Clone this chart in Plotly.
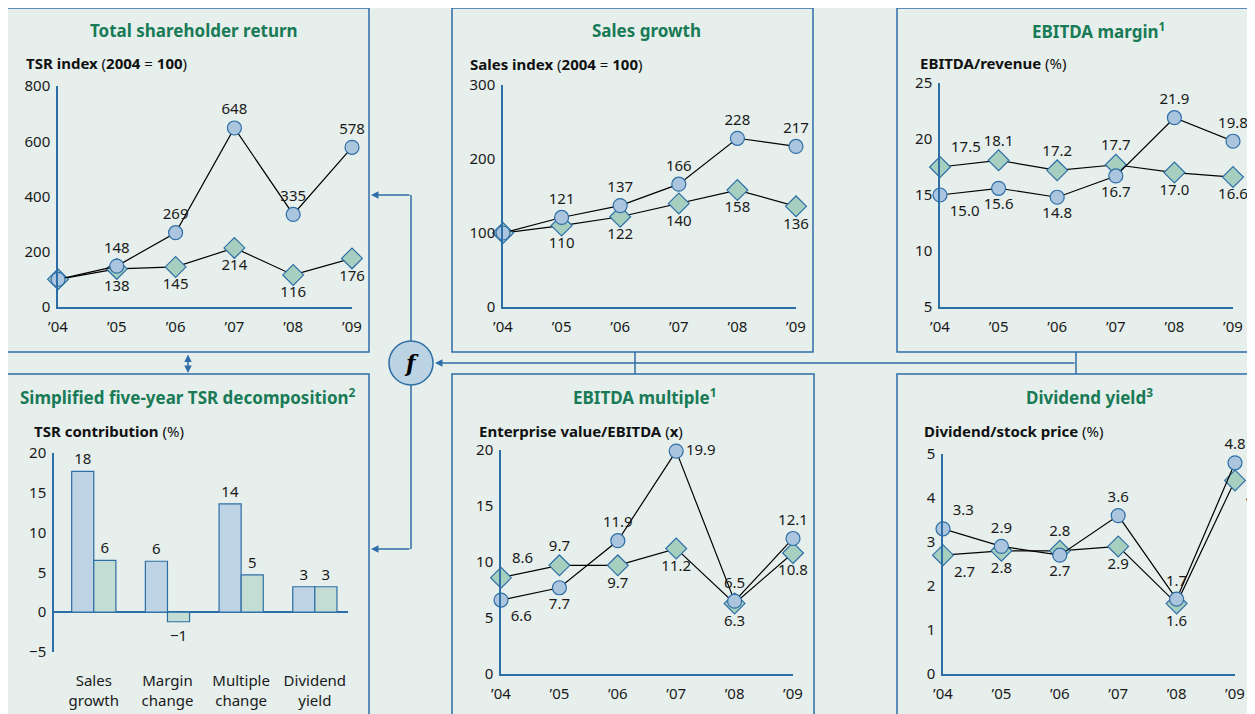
import plotly.graph_objects as go

OFF = 8  # the page body margin shifts the figure by this many pixels
W, H = 1255 + OFF, 714 + OFF
BG = "#e6efec"
BLUE = "#2e6ea6"
GREEN_T = "#197a56"
CIRC_FILL = "#aac5dd"
DIAM_FILL = "#a7cfc0"
BAR_BLUE = "#bed3e3"
BAR_GREEN = "#c4ddd4"
FONT = "Noto Sans"

years = ["’04", "’05", "’06", "’07", "’08", "’09"]

tsr_co = [100, 148, 269, 648, 335, 578]
tsr_peers = [100, 138, 145, 214, 116, 176]
sales_co = [100, 121, 137, 166, 228, 217]
sales_peers = [100, 110, 122, 140, 158, 136]
margin_co = [15.0, 15.6, 14.8, 16.7, 21.9, 19.8]
margin_peers = [17.5, 18.1, 17.2, 17.7, 17.0, 16.6]
multiple_co = [6.6, 7.7, 11.9, 19.9, 6.5, 12.1]
multiple_peers = [8.6, 9.7, 9.7, 11.2, 6.3, 10.8]
yield_co = [3.3, 2.9, 2.7, 3.6, 1.7, 4.8]
yield_peers = [2.7, 2.8, 2.8, 2.9, 1.6, 4.4]

decomp_cats = ["Sales<br>growth", "Margin<br>change", "Multiple<br>change", "Dividend<br>yield"]
decomp_co = [17.7, 6.4, 13.6, 3.2]
decomp_peers = [6.5, -1.2, 4.7, 3.2]
decomp_co_lbl = ["18", "6", "14", "3"]
decomp_peers_lbl = ["6", "−1", "5", "3"]


def px(x):
    return (x - OFF) / W


def py(y):
    return 1 - (y - OFF) / H


fig = go.Figure()

# line panels: axis no, plot area in px, y range, y ticks, data, label positions, format, blank first label
TC, BC = "top center", "bottom center"
panels = [
    (1, (58, 352, 86, 307), [0, 800], [0, 200, 400, 600, 800], tsr_co, tsr_peers,
     [TC] * 6, [BC] * 6, "{:.0f}", True),
    (2, (503, 796, 85, 307), [0, 300], [0, 100, 200, 300], sales_co, sales_peers,
     [TC] * 6, [BC] * 6, "{:.0f}", True),
    (3, (940, 1233, 83, 307), [5, 25], [5, 10, 15, 20, 25], margin_co, margin_peers,
     ["bottom right", BC, BC, BC, TC, TC], ["top right", TC, TC, TC, BC, BC], "{:.1f}", False),
    (5, (501, 793, 450, 674), [0, 20], [0, 5, 10, 15, 20], multiple_co, multiple_peers,
     ["bottom right", BC, TC, "middle right", TC, TC], ["top right", TC, BC, BC, BC, BC], "{:.1f}", False),
    (6, (943, 1235, 454, 674), [0, 5], [0, 1, 2, 3, 4, 5], yield_co, yield_peers,
     ["top right", TC, BC, TC, TC, TC], ["bottom right", BC, TC, BC, BC, "bottom right"], "{:.1f}", False),
]

for n, (x0, x1, y0, y1), yr, yt, co, peers, pos_co, pos_peers, fmt, skip in panels:
    sfx = "" if n == 1 else str(n)
    for vals, pos, sym, fill, size in ((peers, pos_peers, "diamond", DIAM_FILL, 16),
                                       (co, pos_co, "circle", CIRC_FILL, 14)):
        txt = [fmt.format(v) for v in vals]
        if skip:
            txt[0] = ""
        fig.add_trace(go.Scatter(
            x=years, y=vals, xaxis="x" + sfx, yaxis="y" + sfx,
            mode="lines+markers+text", text=txt, textposition=pos,
            textfont=dict(size=15, color="#1a1a1a", family=FONT),
            line=dict(color="black", width=1.2),
            marker=dict(symbol=sym, size=size, color=fill, line=dict(color=BLUE, width=1.2)),
            cliponaxis=False, showlegend=False, hoverinfo="skip"))
    fig.layout["xaxis" + sfx] = dict(
        domain=[px(x0), px(x1)], anchor="y" + sfx, type="category", range=[0, 5],
        showline=True, linecolor=BLUE, linewidth=1.5, showgrid=False, zeroline=False,
        automargin=False, ticks="", ticklabelstandoff=5, tickfont=dict(size=15, color="#1a1a1a"))
    fig.layout["yaxis" + sfx] = dict(
        domain=[py(y1), py(y0)], anchor="x" + sfx, range=yr, tickvals=yt,
        showline=True, linecolor=BLUE, linewidth=1.5, showgrid=False, zeroline=False,
        automargin=False, ticks="", ticklabelstandoff=3, tickfont=dict(size=15, color="#1a1a1a"))

# bar panel (TSR decomposition)
for vals, lbl, fill in ((decomp_co, decomp_co_lbl, BAR_BLUE), (decomp_peers, decomp_peers_lbl, BAR_GREEN)):
    fig.add_trace(go.Bar(
        x=decomp_cats, y=vals, xaxis="x4", yaxis="y4", text=lbl, textposition="outside",
        textfont=dict(size=15, color="#1a1a1a", family=FONT),
        marker=dict(color=fill, line=dict(color=BLUE, width=1.2)),
        cliponaxis=False, showlegend=False, hoverinfo="skip"))
fig.layout["xaxis4"] = dict(
    domain=[px(54), px(348)], anchor="y4", type="category", range=[-0.54, 3.45],
    showline=False, showgrid=False, zeroline=False, ticks="", ticklabelstandoff=18,
    automargin=False, tickfont=dict(size=15, color="#1a1a1a"))
fig.layout["yaxis4"] = dict(
    domain=[py(652), py(453)], anchor="x4", range=[-5, 20], tickvals=[-5, 0, 5, 10, 15, 20],
    showline=True, linecolor=BLUE, linewidth=1.5, showgrid=False,
    zeroline=True, zerolinecolor=BLUE, zerolinewidth=1.5, automargin=False,
    ticks="", ticklabelstandoff=3, tickfont=dict(size=15, color="#1a1a1a"))

shapes = []
# panel frames
for bx0, by0, bx1, by1 in ((7, 8, 369, 352), (452, 8, 813, 352), (897, 8, 1275, 352),
                           (7, 374, 369, 735), (452, 374, 814, 735), (897, 374, 1275, 735)):
    shapes.append(dict(type="rect", xref="paper", yref="paper", x0=px(bx0), x1=px(bx1),
                       y0=py(by1), y1=py(by0), line=dict(color=BLUE, width=1.5)))
# connectors
for lx0, ly0, lx1, ly1 in ((411, 341, 411, 195), (411, 385, 411, 549),
                           (635, 352, 635, 374), (1076, 352, 1076, 374)):
    shapes.append(dict(type="line", xref="paper", yref="paper", x0=px(lx0), x1=px(lx1),
                       y0=py(ly0), y1=py(ly1), line=dict(color=BLUE, width=1.5)))
shapes.append(dict(type="circle", xref="paper", yref="paper", x0=px(389), x1=px(433),
                   y0=py(385), y1=py(341), fillcolor="#bcd3e4", line=dict(color=BLUE, width=1.5)))

annotations = []
for hx, hy, ax, ay, side in ((371, 195, 40, 0, "end"), (371, 549, 40, 0, "end"),
                             (435, 363, 641, 0, "end"), (188, 373, 0, -20, "end+start")):
    annotations.append(dict(xref="paper", yref="paper", x=px(hx), y=py(hy), ax=ax, ay=ay,
                            axref="pixel", ayref="pixel", text="", showarrow=True,
                            arrowhead=2, arrowsize=1, arrowwidth=1.5, arrowcolor=BLUE,
                            arrowside=side, standoff=0, startstandoff=0))
annotations.append(dict(xref="paper", yref="paper", x=px(411), y=py(363), text="<b><i>f</i></b>",
                        xanchor="center", yanchor="middle", showarrow=False,
                        font=dict(family="DejaVu Serif", size=22, color="black")))

titles = [
    ("Total shareholder return", 194, 30),
    ("Sales growth", 646, 30),
    ("EBITDA margin<sup>1</sup>", 1098, 30),
    ("Simplified five-year TSR decomposition<sup>2</sup>", 188, 396),
    ("EBITDA multiple<sup>1</sup>", 644, 396),
    ("Dividend yield<sup>3</sup>", 1089, 396),
]
for t, tx, ty in titles:
    annotations.append(dict(xref="paper", yref="paper", x=px(tx), y=py(ty), text="<b>" + t + "</b>",
                            xanchor="center", yanchor="middle", showarrow=False,
                            font=dict(family=FONT, size=17, color=GREEN_T)))

ytitles = [
    ("<b>TSR index</b> (<b>2004</b> = <b>100</b>)", 24, 63),
    ("<b>Sales index</b> (<b>2004</b> = <b>100</b>)", 468, 64),
    ("<b>EBITDA/revenue</b> (%)", 918, 63),
    ("<b>TSR contribution</b> (%)", 32, 431),
    ("<b>Enterprise value/EBITDA</b> (<b>x</b>)", 477, 431),
    ("<b>Dividend/stock price</b> (%)", 922, 431),
]
for t, tx, ty in ytitles:
    annotations.append(dict(xref="paper", yref="paper", x=px(tx), y=py(ty), text=t,
                            xanchor="left", yanchor="middle", showarrow=False,
                            font=dict(family=FONT, size=15, color="#111111")))

fig.update_layout(
    width=W, height=H, autosize=False, margin=dict(l=0, r=0, t=0, b=0, autoexpand=False),
    paper_bgcolor=BG, plot_bgcolor=BG, font=dict(family=FONT, size=15, color="#1a1a1a"),
    barmode="group", bargap=0.4, bargroupgap=0, shapes=shapes, annotations=annotations)

fig.write_html("out.html")
